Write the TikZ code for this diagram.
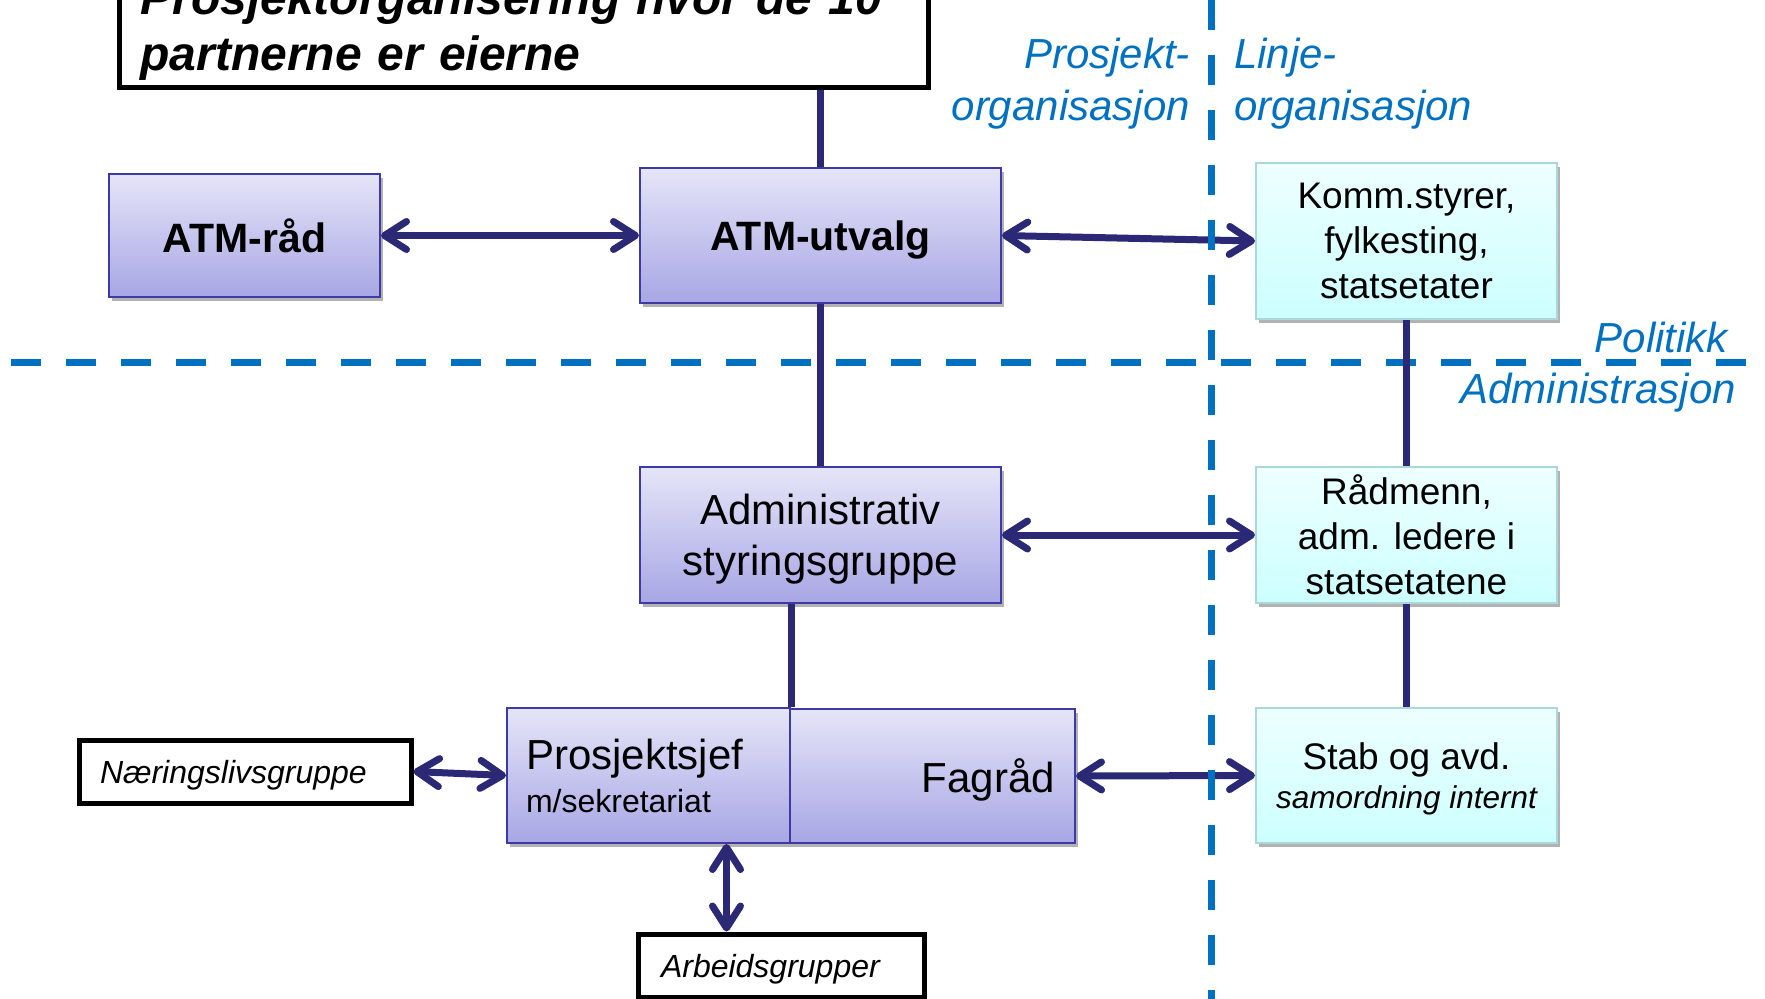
\documentclass[tikz,border=0pt]{standalone}
\usepackage{fontspec}
\setmainfont{Liberation Sans}
\usepackage{tikz}
\usetikzlibrary{arrows.meta}
\usetikzlibrary{shadows}
\definecolor{navy}{RGB}{43,40,118}
\definecolor{lineblue}{RGB}{0,112,192}
\definecolor{lilacborder}{RGB}{62,58,165}
\definecolor{lilactop}{RGB}{229,229,248}
\definecolor{lilacbottom}{RGB}{168,166,228}
\definecolor{cyanborder}{RGB}{170,214,220}
\definecolor{cyantop}{RGB}{238,255,255}
\definecolor{cyanbottom}{RGB}{204,255,255}
\tikzset{
  boxshadow/.style={drop shadow={shadow xshift=3pt, shadow yshift=-4pt, opacity=0.3, fill=black}},
  lilacbox/.style={boxshadow, draw=lilacborder, line width=2pt, top color=lilactop, bottom color=lilacbottom, align=center, inner sep=0pt, font=\fontsize{42}{51}\selectfont},
  cyanbox/.style={boxshadow, draw=cyanborder, line width=2pt, top color=cyantop, bottom color=cyanbottom, align=center, inner sep=0pt, minimum width=301pt, font=\fontsize{37}{45}\selectfont},
  whitebox/.style={draw=black, line width=5pt, fill=white, align=left, inner xsep=21pt, inner ysep=0pt, text depth=0pt, font=\fontsize{32}{38}\selectfont\itshape},
  titlebox/.style={draw=black, line width=5pt, fill=white, align=left, inner xsep=21pt, inner ysep=7pt, text width=767pt, font=\fontsize{48}{56}\selectfont\bfseries\itshape},
  bluelabel/.style={text=lineblue, inner sep=0pt, font=\fontsize{42}{52}\selectfont\itshape},
  divider/.style={draw=lineblue, line width=7pt, dash pattern=on 30pt off 25pt},
  conn/.style={draw=navy, line width=7pt},
  biarrow/.style={conn, {Straight Barb[length=22pt,width=28pt,round]}-{Straight Barb[length=22pt,width=28pt,round]}}
}
\begin{document}
\begin{tikzpicture}[x=1pt,y=-1pt]
  \clip (0,0) rectangle (1765,999);
  % dividing line, politics / administration
  \draw[divider] (11,362) -- (1765,362);
  % labels for the dividing lines
  \node[bluelabel, anchor=east, align=right] (prosjorg) at (1190,84) {Prosjekt-\\organisasjon};
  \node[bluelabel, anchor=west, align=left] (linjeorg) at (1234,84) {Linje-\\organisasjon};
  \node[bluelabel, anchor=base east] (politikk) at (1728,352) {Politikk};
  \node[bluelabel, anchor=base east] (admin) at (1736,403) {Administrasjon};
  % row1
  \node[titlebox, anchor=south west] (title) at (117,90) {Prosjektorganisering hvor de 10\\partnerne er eierne};
  \node[lilacbox, text depth=0pt, minimum width=271pt, minimum height=123pt] (atmraad) at (244.5,235.5) {\bfseries\fontsize{41}{49}\selectfont ATM-råd};
  \node[lilacbox, text depth=0pt, minimum width=361pt, minimum height=135pt] (utvalg) at (820.5,235.5) {\bfseries\fontsize{41}{49}\selectfont ATM-utvalg};
  \node[cyanbox, minimum height=156pt] (komm) at (1406.5,241) {Komm.styrer,\\fylkesting,\\statsetater};
  % row2
  \node[lilacbox, text depth=0pt, minimum width=361pt, minimum height=136pt] (adm) at (820.5,535) {Administrativ\\styringsgruppe};
  \node[cyanbox, minimum height=136pt] (raad) at (1406.5,535) {Rådmenn,\\adm. ledere i\\statsetatene};
  % row3
  \node[lilacbox, align=left, inner xsep=19pt, text width=245pt, minimum height=135pt] (prosj) at (648.5,775.5) {Prosjektsjef\\[-8pt]{\fontsize{32}{38}\selectfont m/sekretariat}};
  \node[lilacbox, text depth=0pt, align=right, inner xsep=20pt, text width=245pt, minimum height=134pt] (fagraad) at (932.5,776) {Fagråd};
  \node[cyanbox, text depth=0pt, minimum height=135pt] (stab) at (1406.5,775.5) {Stab og avd.\\[-6pt]{\fontsize{31.5}{38}\selectfont\itshape samordning internt}};
  \node[whitebox, text width=290pt, minimum height=63pt] (naering) at (245,771.5) {Næringslivsgruppe};
  \node[whitebox, inner xsep=23pt, text width=240pt, minimum height=63pt] (arbeid) at (781,965.5) {Arbeidsgrupper};
  % plain links
  \draw[conn] (utvalg.north) -- (utvalg.north |- title.south);
  \draw[conn] (utvalg.south) -- (adm.north);
  \draw[conn] (prosj.north east) -- (prosj.north east |- adm.south);
  \draw[conn] (komm.south) -- (raad.north);
  \draw[conn] (raad.south) -- (stab.north);
  % arrows
  \draw[biarrow] (atmraad.east) -- (utvalg.west);
  \draw[biarrow] (utvalg.east) -- (komm.west);
  \draw[biarrow] (adm.east) -- (raad.west);
  \draw[biarrow] (fagraad.east) -- (stab.west);
  \draw[biarrow] (naering.east) -- (prosj.west);
  \coordinate (arbtop) at ([xshift=91pt]arbeid.north west);
  \draw[biarrow] (arbtop) -- (arbtop |- prosj.south);
  % dividing line, project / line organisation
  \draw[divider] (1211,0) -- (1211,999);
\end{tikzpicture}
\end{document}
